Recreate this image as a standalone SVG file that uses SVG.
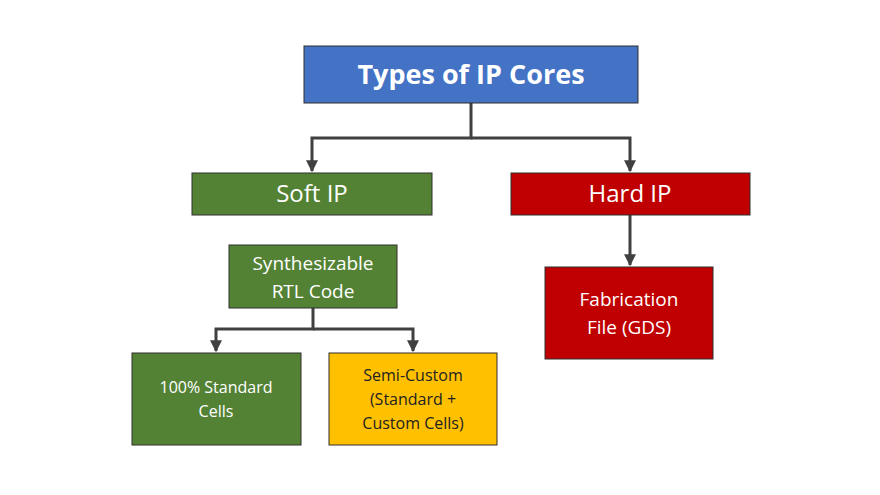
<svg xmlns="http://www.w3.org/2000/svg" width="880" height="495" viewBox="0 0 880 495">
<style>
text{font-family:"Open Sans","Liberation Sans",sans-serif;text-anchor:middle;fill:#fff}
.b{stroke:#2F2F2F;stroke-width:1}
.c{fill:none;stroke:#404040;stroke-width:3}
</style>
<defs><marker id="a" viewBox="0 0 10 10" refX="9" refY="5" markerWidth="4" markerHeight="4" orient="auto"><path d="M0,0L10,5L0,10z" fill="#404040"/></marker></defs>
<rect width="880" height="495" fill="#fff"/>
<g id="connectors">
<path class="c" d="M471,103V138H312V171" marker-end="url(#a)"/>
<path class="c" d="M471,138H630V171" marker-end="url(#a)"/>
<path class="c" d="M630,215V265" marker-end="url(#a)"/>
<path class="c" d="M313,308V329H216V351" marker-end="url(#a)"/>
<path class="c" d="M313,329H413V351" marker-end="url(#a)"/>
</g>
<g id="title"><rect class="b" x="304" y="46" width="334" height="57" fill="#4472C4"/><text x="471" y="84" font-size="27" font-weight="bold">Types of IP Cores</text></g>
<g id="soft"><rect class="b" x="192" y="173" width="240" height="42" fill="#548235"/><text x="312" y="202" font-size="24">Soft IP</text></g>
<g id="hard"><rect class="b" x="511" y="173" width="239" height="42" fill="#C00000"/><text x="630" y="202" font-size="24">Hard IP</text></g>
<g id="synth"><rect class="b" x="229" y="245" width="168" height="63" fill="#548235"/><text x="313" y="270" font-size="19">Synthesizable</text><text x="313" y="298" font-size="19">RTL Code</text></g>
<g id="fab"><rect class="b" x="545" y="267" width="168" height="92" fill="#C00000"/><text x="629" y="306" font-size="19">Fabrication</text><text x="629" y="334" font-size="19">File (GDS)</text></g>
<g id="std"><rect class="b" x="132" y="353" width="169" height="92" fill="#548235"/><text x="216" y="393" font-size="16">100% Standard</text><text x="216" y="417" font-size="16">Cells</text></g>
<g id="semi"><rect class="b" x="329" y="353" width="168" height="92" fill="#FFC000"/><text x="413" y="381" font-size="16" style="fill:#222">Semi-Custom</text><text x="413" y="405" font-size="16" style="fill:#222">(Standard +</text><text x="413" y="429" font-size="16" style="fill:#222">Custom Cells)</text></g>
</svg>
